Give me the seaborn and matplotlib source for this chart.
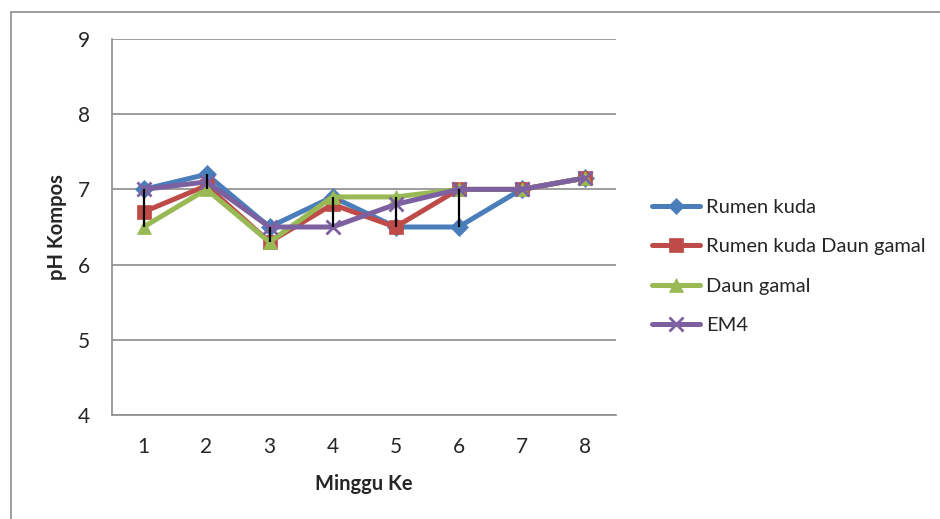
import matplotlib
matplotlib.use('Agg')
import matplotlib.pyplot as plt
import seaborn as sns
import pandas as pd
from matplotlib.patches import Rectangle
from matplotlib.lines import Line2D

minggu = [1, 2, 3, 4, 5, 6, 7, 8]
rumen_kuda = [7.0, 7.2, 6.5, 6.9, 6.5, 6.5, 7.0, 7.15]
rumen_kuda_daun_gamal = [6.7, 7.05, 6.3, 6.8, 6.5, 7.0, 7.0, 7.15]
daun_gamal = [6.5, 7.0, 6.3, 6.9, 6.9, 7.0, 7.0, 7.15]
em4 = [7.0, 7.1, 6.5, 6.5, 6.8, 7.0, 7.0, 7.15]

series_names = ['Rumen kuda', 'Rumen kuda Daun gamal', 'Daun gamal', 'EM4']
colors = ['#4A7EBB', '#BE4B48', '#98B954', '#7D60A0']
markers = ['D', 's', '^', 'x']

df = pd.DataFrame({'Minggu': minggu, series_names[0]: rumen_kuda,
                   series_names[1]: rumen_kuda_daun_gamal,
                   series_names[2]: daun_gamal, series_names[3]: em4})
long = df.melt(id_vars='Minggu', var_name='Seri', value_name='pH')

sns.set_style('white')
plt.rcParams['font.family'] = ['Lato', 'DejaVu Sans']

fig = plt.figure(figsize=(9.4, 5.19), dpi=100)
ax = fig.add_axes([112 / 940, 1 - 415 / 519, (616 - 112) / 940, (415 - 39) / 519])

# outer chart border
fig.patches.append(Rectangle((11 / 940, -0.1), 1.2, 1 - 12 / 519 + 0.1, transform=fig.transFigure,
                             fill=False, edgecolor='#8c8c8c', linewidth=1.2))

sizes = {'D': 9, 's': 10.5, '^': 10.5, 'x': 10.5}
for name, col, mk in zip(series_names, colors, markers):
    sub = long[long['Seri'] == name]
    sns.lineplot(data=sub, x='Minggu', y='pH', ax=ax, color=col, linewidth=3.6,
                 marker=mk, markersize=sizes[mk], markeredgecolor=col,
                 markeredgewidth=2 if mk == 'x' else 0.5, label=name, legend=False)

# high-low lines
lo = df[series_names].min(axis=1)
hi = df[series_names].max(axis=1)
ax.vlines(df['Minggu'], lo, hi, color='black', linewidth=1.6, zorder=5)

ax.set_xlim(0.5, 8.5)
ax.set_ylim(4, 9)
ax.set_yticks([4, 5, 6, 7, 8, 9])
ax.set_xticks(minggu)
ax.yaxis.grid(True, color='#8c8c8c', linewidth=1.2)
ax.set_axisbelow(True)
for s in ['top', 'right']:
    ax.spines[s].set_visible(False)
for s in ['left', 'bottom']:
    ax.spines[s].set_color('#8c8c8c')
    ax.spines[s].set_linewidth(1.2)
ax.tick_params(axis='y', length=6, color='#8c8c8c', width=1.2, labelsize=15, pad=10)
ax.tick_params(axis='x', length=0, labelsize=15, pad=16)

ax.set_xlabel('Minggu Ke', fontsize=14.5, fontweight='bold', labelpad=12)
ax.set_ylabel('pH Kompos', fontsize=14.5, fontweight='bold', labelpad=8)

handles = [Line2D([], [], color=c, linewidth=3.6, marker=m, markersize=sizes[m] * 0.9,
                  markeredgecolor=c, markeredgewidth=2 if m == 'x' else 0.5)
           for c, m in zip(colors, markers)]
fig.legend(handles, series_names, loc='upper left', bbox_to_anchor=(634 / 940, 1 - 181 / 519),
           frameon=False, fontsize=14.5, handlelength=2.4, handletextpad=0.3, labelspacing=1.1)

fig.savefig('out.png', dpi=100)
